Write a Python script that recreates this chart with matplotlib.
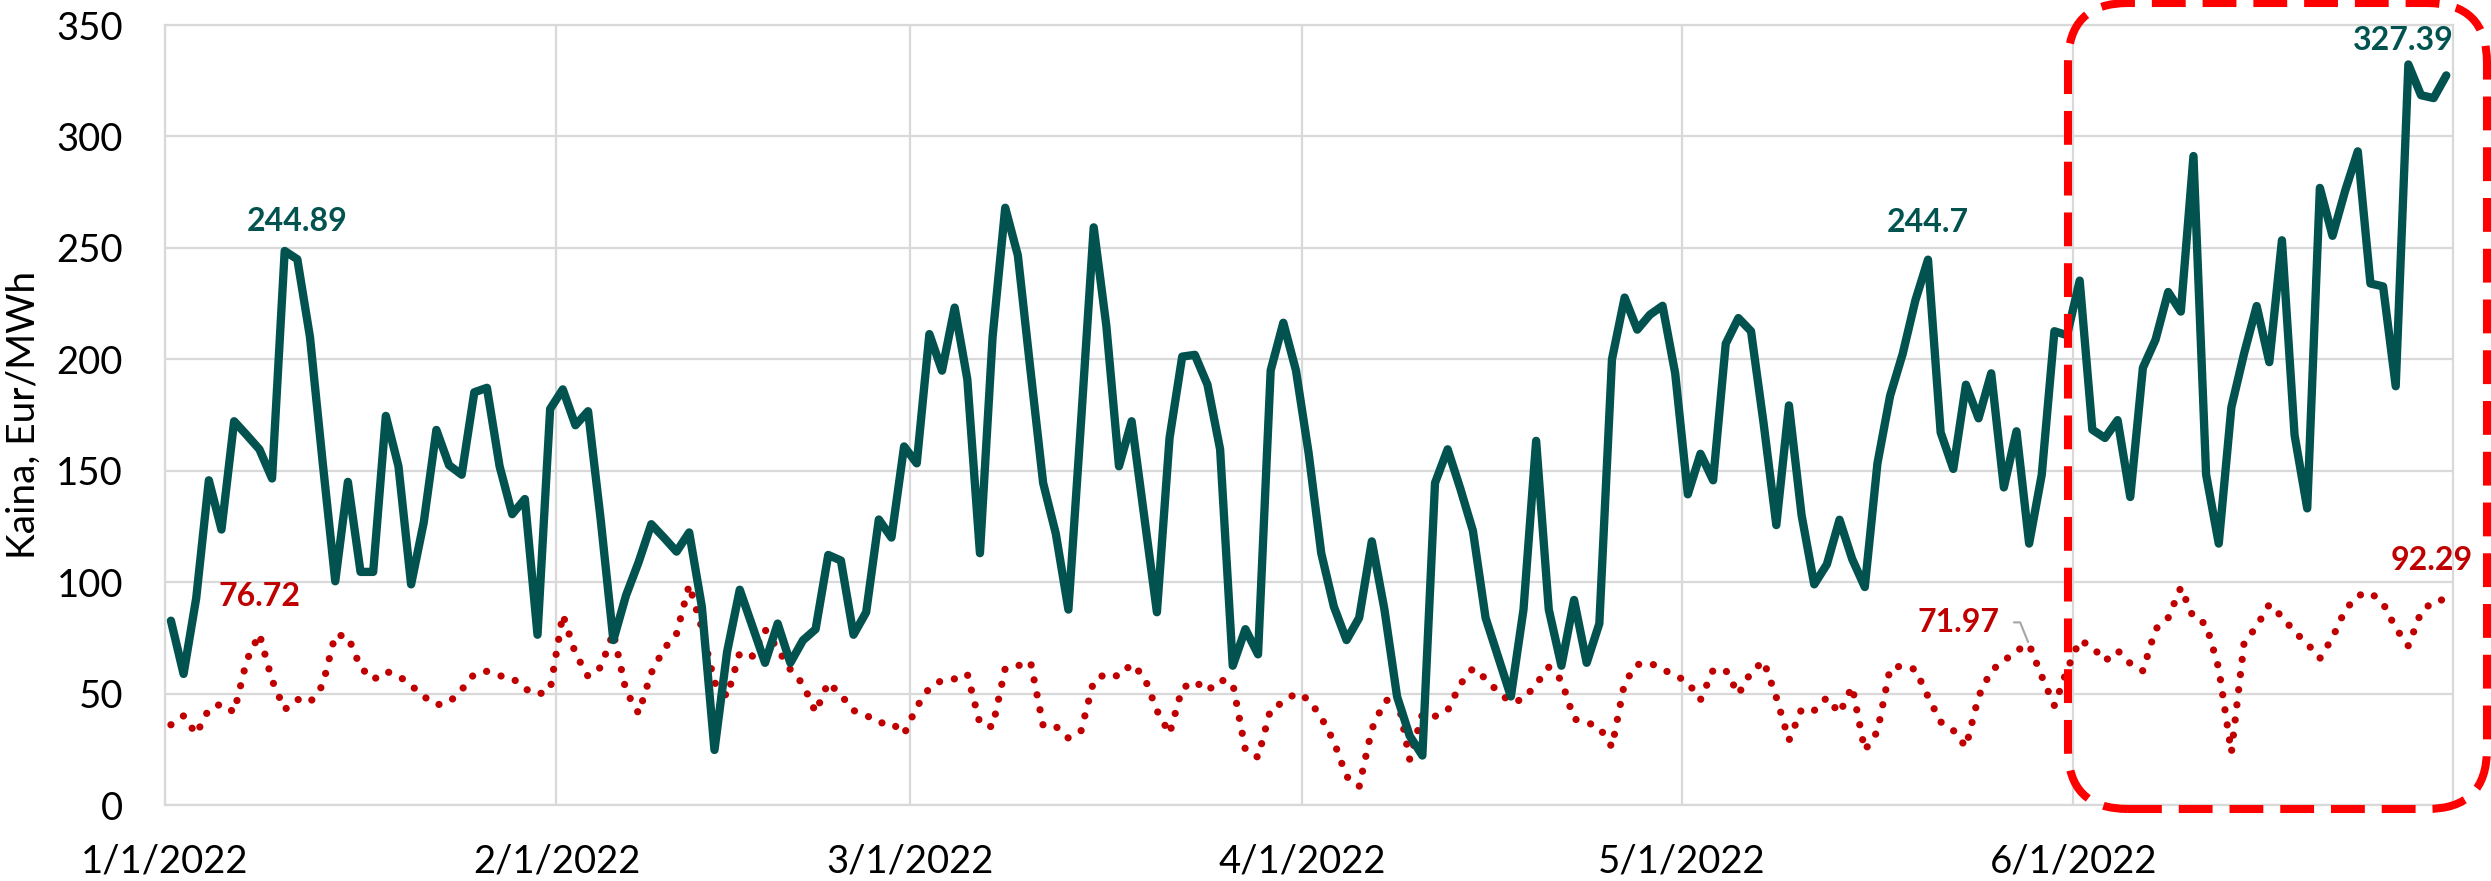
import numpy as np
import pandas as pd
import matplotlib
matplotlib.use("Agg")
import matplotlib.pyplot as plt
from matplotlib.patches import FancyBboxPatch

plt.rcParams["font.family"] = ["Lato", "DejaVu Sans"]

# daily prices, 2022-01-01 .. 2022-06-30
days = pd.date_range("2022-01-01", "2022-06-30", freq="D")

green = [82.7, 58.8, 92.8, 145.7, 123.6, 172.2, 166, 159.6, 146.5, 248.6,
         244.89, 210, 154, 100.4, 145, 104.6, 104.6, 174.6, 152, 99,
         126.8, 168.3, 152.5, 148.2, 185.2, 187.2, 152, 130.5, 137.3, 76.4,
         177.7, 186.5, 170.4, 176.7,
         128, 74, 94, 109, 126, 120, 113.7, 122.3, 89, 24.7,
         68.8, 96.6, 80.2, 63.8, 81.4, 63.8, 73.9, 78.9, 112.2, 109.7,
         76.4, 86.5, 128.1, 120, 160.9, 153.3, 211.3, 194.9, 223.2, 191.1,
         113, 210,
         268, 246.6, 195, 144.5, 121.8, 87.7, 172, 259.2, 215, 152,
         172.2, 129.4, 86.5, 164.7, 201.2, 202, 188.6, 159.6, 62.5, 78.9,
         67.6, 195, 216.4, 195, 158, 113, 89, 74, 84, 118.3,
         87.7, 48.6,
         31, 22.2, 144.5, 159.6, 142, 123, 84, 66.3, 48.7, 87.7,
         163.4, 87.7, 62.5, 92, 63.8, 81.4, 200, 227.7, 213.3, 220,
         224, 193.7, 139.4, 157.6, 145.7, 207, 218.5, 212.6, 171, 125.6,
         179.3, 130,
         99, 108, 128, 110.4, 97.8, 153.3, 183.6, 202.5, 226.4, 244.7,
         167.2, 150.8, 188.6, 173.5, 193.7, 142.5, 167.7, 117.3, 148.3, 212.6,
         210.8, 235.3, 168.4, 164.7, 172.7, 138.2, 196.2,
         208.8, 230.2, 221.4, 291.2, 148.3, 117.3, 178.5, 202.5, 223.9, 198.7,
         253.4, 165.9, 133.1, 276.9, 255.4, 275.6, 293.3, 234, 232.7, 187.9,
         332.3, 318.5, 317.2, 327.39]

red = [36, 40, 31.8, 43, 45.4, 41.6, 65, 76.72, 56, 42.8,
       47.4, 46, 53.7, 76.4, 75.6, 61.8, 56.2, 60, 58, 53.7,
       48.7, 44.9, 46, 51.7, 58.8, 60, 58, 57, 52.2, 49.5,
       51.7,
       85.5, 68, 57.7, 61.8, 77.4, 51.2, 41.1, 59.3, 70, 76.9,
       98.8, 79.4, 55, 48.7, 68.3, 66.8, 78.7, 70, 60.8, 54.2,
       41.6, 55, 49.4, 42.4, 40.3, 36.8, 37, 31.8, 44, 52.5,
       56, 56.6, 58.8, 36.5, 35,
       61.3, 62.5, 64.3, 35.6, 35.3, 30, 33.3, 55.7, 59, 57.7,
       63.3, 57.5, 42.4, 32, 52.4, 55.5, 51.2, 56.2, 54.5, 24.7,
       21.4, 43.1, 46.1, 50.2, 47.4, 39.3, 28.5, 12.8, 8.3, 34,
       46.4, 49.2,
       20.4, 40.8, 39.8, 42.4, 54.2, 61.3, 56.7, 50.7, 46.1, 47.4,
       54.2, 61.8, 56, 38.6, 37.1, 34.8, 26, 55, 63, 63.8,
       60.8, 58.3, 55, 47.2, 60.5, 60.5, 49.7, 59.6, 64.6, 48.3,
       29, 43,
       42.4, 48.2, 41.1, 53.2, 24.5, 33, 61.3, 62.5, 60.8, 48.7,
       37.3, 33.5, 26, 48.7, 60.3, 64.6, 69.3, 71.97, 57.7, 44.6,
       60.6, 73.9, 71, 64.6, 69.3, 63.5, 60.2,
       78.9, 84, 97.6, 84, 81.2, 61.3, 23.5, 72.6, 80.2, 90,
       84.5, 77.7, 72.4, 65.8, 75.1, 87.5, 94, 95.3, 90.5, 79.4,
       71.4, 86.5, 91.5, 92.29]

month_ticks = pd.date_range("2022-01-01", "2022-06-01", freq="MS")
tick_labels = ["1/1/2022", "2/1/2022", "3/1/2022", "4/1/2022", "5/1/2022", "6/1/2022"]

# (day index, offset in points)
green_labels = [(10, (0, 20)), (139, (0, 20)), (180, (-31, 18))]
red_labels = [(7, (0, 20)), (180, (-10.5, 21))]

GREEN = "#02534F"
RED = "#C00000"
GRID = "#D9D9D9"

W, H = 2491, 881
fig = plt.figure(figsize=(W / 100, H / 100), dpi=100)
ax = fig.add_axes([164.6 / W, 76 / H, 2288 / W, 780 / H])

x = days + pd.Timedelta(hours=12)
ax.plot(x, red, color=RED, lw=5.2, ls=(0, (0.01, 2.1)), dash_capstyle="round", zorder=2)
ax.plot(x, green, color=GREEN, lw=6, solid_joinstyle="round", solid_capstyle="round", zorder=3)

ax.set_xlim(pd.Timestamp("2022-01-01"), pd.Timestamp("2022-07-01"))
ax.set_ylim(0, 350)
ax.set_yticks(np.arange(0, 351, 50))
ax.set_xticks(month_ticks)
ax.set_xticklabels(tick_labels)
ax.grid(True, color=GRID, lw=1.6)
ax.set_axisbelow(True)
for s in ax.spines.values():
    s.set_color(GRID)
    s.set_linewidth(1.6)
ax.tick_params(axis="both", length=0, labelsize=27.5, colors="black")
ax.tick_params(axis="y", pad=30)
ax.tick_params(axis="x", pad=28)

ax.set_ylabel("Kaina, Eur/MWh", fontsize=28)
ax.yaxis.set_label_coords(-0.0536, 0.5)

for i, off in green_labels:
    ax.annotate(f"{green[i]:g}", (x[i], green[i]), xytext=off, textcoords="offset points",
                ha="center", va="baseline", fontsize=23, fontweight="bold", color=GREEN, zorder=5)
for i, off in red_labels:
    ax.annotate(f"{red[i]:g}", (x[i], red[i]), xytext=off, textcoords="offset points",
                ha="center", va="baseline", fontsize=23, fontweight="bold", color=RED, zorder=5)

# label with leader line
i = 147
ax.annotate(f"{red[i]:g}", (x[i], red[i]), xytext=(-50.5, 16), textcoords="offset points",
            ha="center", va="center", fontsize=23, fontweight="bold", color=RED, zorder=5,
            arrowprops=dict(arrowstyle="-", color="#A6A6A6", lw=1.5, shrinkA=8, shrinkB=2,
                            relpos=(1, 0.5),
                            connectionstyle="angle,angleA=0,angleB=-68,rad=0"))

# highlighted June box (pixel coordinates)
box = FancyBboxPatch((2068, 72), 2487 - 2068, 806, boxstyle="round,pad=0,rounding_size=60",
                     transform=None, fill=False, ec="#FF0000", lw=5.8, ls=(0, (4.2, 2.1)),
                     clip_on=False, zorder=10)
fig.add_artist(box)

fig.savefig("out.png", dpi=100)
